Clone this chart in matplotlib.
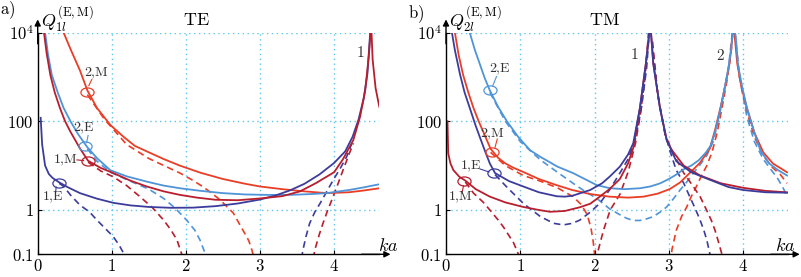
import numpy as np
import matplotlib
matplotlib.use('Agg')
import matplotlib.pyplot as plt
from matplotlib.path import Path
from matplotlib.transforms import Affine2D

plt.rcParams.update({
    'mathtext.fontset': 'cm',
    'font.family': 'serif',
    'font.size': 11,
    'axes.linewidth': 1.0,
})

W, H = 801, 277

# colours
C_E1 = '#3c3c9c'
C_M1 = '#b81e2d'
C_E2 = '#4f94d8'
C_M2 = '#ea3d26'
C_GRID = '#5cc6ee'

# ---------------- panel a) TE ----------------
te_e1_x = [0.04, 0.06, 0.1, 0.15, 0.2, 0.29, 0.4, 0.57, 0.8, 1.02, 1.25, 1.5, 1.8, 2.1, 2.4,
           2.7, 3.0, 3.2, 3.4, 3.6, 3.8, 4.0, 4.15, 4.25, 4.33, 4.4, 4.45, 4.49]
te_e1_q = [120, 30, 10, 6.5, 5.3, 4.2, 3.3, 2.4, 1.8, 1.45, 1.27, 1.17, 1.12, 1.13, 1.22,
           1.4, 1.72, 2.1, 2.75, 3.9, 6.3, 11.5, 21, 45, 110, 330, 1200, 12000]
te_e1d_x = [0.29, 0.35, 0.45, 0.57, 0.7, 0.8, 0.9, 1.02, 1.1, 1.16, 1.2]
te_e1d_q = [4.0, 3.4, 2.1, 1.29, 0.9, 0.59, 0.4, 0.25, 0.16, 0.105, 0.08]
te_e1d2_x = [3.56, 3.58, 3.62, 3.67, 3.74, 3.81, 3.9, 3.99, 4.08, 4.17, 4.24]
te_e1d2_q = [0.08, 0.126, 0.25, 0.5, 0.9, 1.4, 2.6, 4.8, 8.5, 16, 32]

te_m1_x = [0.085, 0.12, 0.17, 0.23, 0.3, 0.37, 0.44, 0.57, 0.68, 0.85, 1.02, 1.25, 1.47, 1.7,
           1.92, 2.15, 2.4, 2.7, 3.0, 3.3, 3.54, 3.75, 4.0, 4.12, 4.26, 4.35, 4.42, 4.47, 4.5,
           4.52, 4.56, 4.61]
te_m1_q = [10000, 3500, 1120, 450, 200, 100, 59, 24.5, 12.9, 8.9, 6.8, 4.6, 3.4, 2.63,
           2.19, 1.9, 1.7, 1.66, 1.82, 2.05, 2.63, 4.0, 7.1, 14, 38, 126, 500, 3200, 16000,
           2500, 560, 214]
te_m1d_x = [0.68, 0.85, 1.02, 1.2, 1.38, 1.55, 1.7, 1.8, 1.88, 1.94, 1.97]
te_m1d_q = [12, 7.6, 5.6, 3.55, 2.0, 1.12, 0.59, 0.35, 0.21, 0.105, 0.07]
te_m1d2_x = [3.72, 3.74, 3.8, 3.85, 3.91, 3.97, 4.05, 4.12, 4.2, 4.26]
te_m1d2_q = [0.08, 0.126, 0.28, 0.5, 0.95, 1.7, 3.8, 7.9, 17.8, 32]

te_e2_x = [0.1, 0.14, 0.19, 0.27, 0.35, 0.45, 0.55, 0.67, 0.8, 0.98, 1.2, 1.47, 1.7, 1.92,
           2.2, 2.5, 2.8, 3.1, 3.4, 3.7, 3.9, 4.2, 4.4, 4.61]
te_e2_q = [10000, 3160, 1120, 450, 200, 95, 50, 26, 14.8, 7.9, 5.75, 4.37, 3.55, 3.09,
           2.7, 2.4, 2.24, 2.19, 2.19, 2.29, 2.4, 2.82, 3.24, 3.8]
te_e2d_x = [0.67, 0.8, 0.98, 1.25, 1.5, 1.7, 1.85, 2.01, 2.12, 2.19, 2.26, 2.29]
te_e2d_q = [24, 12.6, 7.1, 4.47, 2.95, 1.82, 1.12, 0.59, 0.35, 0.21, 0.105, 0.07]

te_m2_x = [0.35, 0.45, 0.57, 0.67, 0.8, 0.98, 1.15, 1.31, 1.5, 1.7, 1.92, 2.2, 2.5, 2.8,
           3.0, 3.3, 3.6, 3.9, 4.2, 4.4, 4.61]
te_m2_q = [10000, 4000, 1410, 500, 200, 83, 46, 28, 20, 14.1, 10, 6.9, 5.0, 3.9,
           3.39, 2.95, 2.63, 2.4, 2.51, 2.75, 3.09]
te_m2d_x = [0.67, 0.9, 1.2, 1.5, 1.92, 2.1, 2.2, 2.3, 2.46, 2.64, 2.77, 2.85, 2.89, 2.93]
te_m2d_q = [400, 112, 30, 14.5, 6.8, 4.6, 3.6, 2.75, 1.7, 0.85, 0.35, 0.2, 0.126, 0.07]

# ---------------- panel b) TM ----------------
tm_m1_x = [0.02, 0.03, 0.06, 0.1, 0.18, 0.26, 0.4, 0.59, 0.8, 1.04, 1.25, 1.4, 1.6, 1.8,
           1.94, 2.07, 2.2, 2.34, 2.45, 2.52, 2.61, 2.69, 2.75, 2.79, 2.88, 2.97, 3.04, 3.2,
           3.42, 3.7, 4.0, 4.3, 4.59]
tm_m1_q = [100, 19, 11.2, 7.9, 5.6, 4.6, 2.95, 2.0, 1.48, 1.17, 1.0, 0.91, 0.95, 1.15,
           1.38, 2.0, 2.95, 5.0, 11.2, 25, 200, 2000, 16000, 2000, 200, 38, 22.4, 10,
           6.0, 4.0, 3.16, 2.7, 2.5]
tm_m1d_x = [0.26, 0.37, 0.5, 0.59, 0.7, 0.77, 0.85, 0.91, 0.97, 1.0]
tm_m1d_q = [4.3, 2.4, 1.5, 1.0, 0.6, 0.42, 0.26, 0.18, 0.105, 0.07]
tm_m1d2_x = [2.02, 2.05, 2.12, 2.21, 2.34, 2.45, 2.55, 2.62, 2.68, 2.73]
tm_m1d2_q = [0.07, 0.126, 0.35, 1.0, 2.24, 7.1, 32, 160, 1000, 12600]
tm_m1d3_x = [2.78, 2.85, 2.95, 3.05, 3.2, 3.32, 3.42, 3.5, 3.57, 3.62, 3.66, 3.71, 3.74]
tm_m1d3_q = [6300, 400, 50, 20, 6.8, 3.55, 2.0, 1.05, 0.59, 0.35, 0.21, 0.105, 0.07]

tm_e1_x = [0.08, 0.12, 0.19, 0.25, 0.32, 0.4, 0.46, 0.52, 0.59, 0.66, 0.85, 1.04, 1.25,
           1.49, 1.6, 1.7, 1.94, 2.1, 2.2, 2.34, 2.45, 2.52, 2.61, 2.69, 2.75, 2.79, 2.88,
           2.97, 3.1, 3.3, 3.55, 3.8, 4.0, 4.3, 4.59]
tm_e1_q = [10000, 4000, 1120, 450, 200, 79, 42, 22.4, 11.2, 6.8, 4.47, 3.39, 2.51,
           2.04, 2.0, 2.09, 2.82, 4.0, 5.6, 9.5, 17.8, 32, 200, 2000, 16000, 2000, 200,
           38, 12.6, 7.1, 4.8, 3.3, 2.82, 2.51, 2.45]
tm_e1d_x = [0.66, 0.81, 1.04, 1.27, 1.45, 1.58, 1.7, 1.8, 1.94, 2.07, 2.2, 2.34, 2.45,
            2.55, 2.63, 2.7, 2.74]
tm_e1d_q = [6.3, 3.4, 1.41, 0.71, 0.5, 0.46, 0.5, 0.59, 0.89, 1.41, 2.82, 6.8, 14, 40,
            200, 1600, 12600]
tm_e1d2_x = [2.77, 2.85, 2.95, 3.05, 3.1, 3.2, 3.28, 3.35, 3.42, 3.47, 3.51, 3.55, 3.57]
tm_e1d2_q = [6300, 400, 50, 14, 7.9, 4.0, 2.0, 1.12, 0.59, 0.35, 0.21, 0.105, 0.07]

tm_e2_x = [0.32, 0.39, 0.46, 0.52, 0.59, 0.7, 0.82, 0.97, 1.13, 1.27, 1.5, 1.71, 2.03,
           2.21, 2.4, 2.61, 2.75, 2.88, 3.0, 3.1, 3.2, 3.3, 3.4, 3.5, 3.56, 3.62, 3.69,
           3.75, 3.8, 3.84, 3.87, 3.9, 3.93, 3.99, 4.05, 4.15, 4.23, 4.35, 4.47, 4.59]
tm_e2_q = [10000, 4000, 1860, 955, 500, 214, 100, 45, 22.4, 15.8, 9.5, 6.8, 3.63,
           3.09, 2.95, 3.09, 3.39, 3.98, 5.0, 6.3, 8.3, 10, 13.2, 20, 28, 56, 178,
           560, 1580, 4470, 16000, 8000, 1860, 560, 200, 56, 22.4, 11.2, 7.9, 6.0]
tm_e2d_x = [0.59, 0.8, 1.0, 1.27, 1.5, 1.71, 1.87, 2.03, 2.2, 2.34, 2.43, 2.52, 2.61,
            2.7, 2.79, 2.88, 2.97, 3.06, 3.15, 3.24, 3.33, 3.42, 3.51, 3.6, 3.68, 3.75,
            3.8, 3.86]
tm_e2d_q = [450, 100, 35, 13.5, 7.1, 4.0, 2.63, 1.82, 1.07, 0.78, 0.65, 0.58, 0.58,
            0.63, 0.71, 0.89, 1.17, 1.78, 2.82, 4.27, 6.8, 10.5, 17, 36, 140, 560,
            1500, 12600]
tm_e2d2_x = [3.89, 3.95, 4.05, 4.15, 4.27, 4.38, 4.46, 4.52, 4.56, 4.59]
tm_e2d2_q = [10000, 1000, 126, 35, 14, 7.9, 5.25, 3.55, 2.63, 2.0]

tm_m2_x = [0.12, 0.17, 0.23, 0.3, 0.37, 0.44, 0.5, 0.6, 0.7, 0.8, 0.9, 1.04, 1.25, 1.49,
           1.7, 1.94, 2.2, 2.45, 2.66, 2.85, 3.01, 3.15, 3.28, 3.42, 3.55, 3.62, 3.7,
           3.77, 3.82, 3.87, 3.92, 3.98, 4.05, 4.15, 4.27, 4.4, 4.59]
tm_m2_q = [10000, 3160, 1120, 450, 200, 100, 59, 24, 15.1, 11.2, 9.1, 7.2, 5.0, 3.63,
           2.82, 2.29, 2.0, 1.9, 2.0, 2.34, 2.95, 4.17, 6.8, 11.7, 24, 63, 224, 800,
           2240, 16000, 2000, 560, 200, 56, 20, 11.2, 7.1]
tm_m2d_x = [0.6, 0.8, 1.04, 1.27, 1.5, 1.71, 1.82, 1.9, 1.95, 1.98, 2.0, 2.01]
tm_m2d_q = [20, 10, 6.0, 4.47, 3.16, 2.0, 1.32, 0.79, 0.4, 0.2, 0.1, 0.063]
tm_m2d2_x = [3.03, 3.04, 3.1, 3.17, 3.24, 3.3, 3.37, 3.44, 3.51, 3.58, 3.65, 3.72, 3.78,
             3.84, 3.87]
tm_m2d2_q = [0.063, 0.126, 0.35, 0.71, 1.17, 2.0, 3.39, 6.0, 10, 20, 56, 224, 800,
             4000, 16000]
tm_m2d3_x = [3.9, 3.95, 4.05, 4.15, 4.27, 4.4, 4.5, 4.59]
tm_m2d3_q = [6300, 1000, 160, 45, 16.6, 8.9, 6.3, 4.0]

yticks = [0.1, 1, 100, 1e4]
yticklabels = ['$0.1$', '$1$', '$100$', '$10^4$']
xticks = [0, 1, 2, 3, 4]


def fx(px):
    return px / W


def fy(py):
    return 1 - py / H


# ellipse marker
ELL = Path.unit_circle().transformed(Affine2D().scale(1.45, 1.0))


def setup(ax):
    ax.set_yscale('log')
    ax.set_xlim(0, 4.6)
    ax.set_ylim(0.1, 1e4)
    ax.spines['top'].set_visible(False)
    ax.spines['right'].set_visible(False)
    ax.set_yticks(yticks)
    ax.set_yticklabels(yticklabels, fontsize=12)
    ax.yaxis.set_minor_locator(matplotlib.ticker.NullLocator())
    ax.set_xticks(xticks)
    ax.set_xticklabels(['$%d$' % v for v in xticks], fontsize=12)
    ax.tick_params(direction='in', length=3, width=0.8, pad=3)
    for v in [1, 2, 3, 4]:
        ax.axvline(v, color=C_GRID, lw=1.0, ls=(0, (1, 2.5)), zorder=0)
    for v in [1, 100, 1e4]:
        ax.axhline(v, color=C_GRID, lw=1.0, ls=(0, (1, 2.5)), zorder=0)
    ax.annotate('', xy=(0, 1.06), xytext=(0, 0.95), xycoords='axes fraction',
                arrowprops=dict(arrowstyle='-|>', color='k', lw=1.0, mutation_scale=9,
                                shrinkA=0, shrinkB=0))
    ax.annotate('', xy=(1.035, 0), xytext=(0.95, 0), xycoords='axes fraction',
                arrowprops=dict(arrowstyle='-|>', color='k', lw=1.0, mutation_scale=9,
                                shrinkA=0, shrinkB=0))


def solid(ax, x, q, c):
    ax.plot(x, q, color=c, lw=1.3, solid_joinstyle='round')


def dashed(ax, x, q, c):
    ax.plot(x, q, color=c, lw=1.2, ls=(0, (4, 2.6)))


def tag(ax, pos, text_pos, line, text, c):
    ax.plot(*pos, marker=ELL, ms=9.5, mfc='none', mec=c, mew=0.9)
    ax.plot(line[0], line[1], color=c, lw=0.8)
    ax.text(*text_pos, text, fontsize=10, ha='center', va='center', color='#333333')


fig = plt.figure(figsize=(W / 100, H / 100), dpi=100)
ax1 = fig.add_axes([fx(37.7), fy(254.3), 4.6 * 74.1 / W, 221.6 / H])
ax2 = fig.add_axes([fx(446), fy(254.3), 4.6 * 74.3 / W, 221.6 / H])

for ax in (ax1, ax2):
    setup(ax)

# TE curves
dashed(ax1, te_m2d_x, te_m2d_q, C_M2)
dashed(ax1, te_e2d_x, te_e2d_q, C_E2)
dashed(ax1, te_m1d_x, te_m1d_q, C_M1)
dashed(ax1, te_m1d2_x, te_m1d2_q, C_M1)
dashed(ax1, te_e1d_x, te_e1d_q, C_E1)
dashed(ax1, te_e1d2_x, te_e1d2_q, C_E1)
solid(ax1, te_m2_x, te_m2_q, C_M2)
solid(ax1, te_e2_x, te_e2_q, C_E2)
solid(ax1, te_e1_x, te_e1_q, C_E1)
solid(ax1, te_m1_x, te_m1_q, C_M1)

# TM curves
dashed(ax2, tm_m2d_x, tm_m2d_q, C_M2)
dashed(ax2, tm_m2d2_x, tm_m2d2_q, C_M2)
dashed(ax2, tm_m2d3_x, tm_m2d3_q, C_M2)
dashed(ax2, tm_e2d_x, tm_e2d_q, C_E2)
dashed(ax2, tm_e2d2_x, tm_e2d2_q, C_E2)
dashed(ax2, tm_m1d_x, tm_m1d_q, C_M1)
dashed(ax2, tm_m1d2_x, tm_m1d2_q, C_M1)
dashed(ax2, tm_m1d3_x, tm_m1d3_q, C_M1)
dashed(ax2, tm_e1d_x, tm_e1d_q, C_E1)
dashed(ax2, tm_e1d2_x, tm_e1d2_q, C_E1)
solid(ax2, tm_m2_x, tm_m2_q, C_M2)
solid(ax2, tm_e2_x, tm_e2_q, C_E2)
solid(ax2, tm_m1_x, tm_m1_q, C_M1)
solid(ax2, tm_e1_x, tm_e1_q, C_E1)

# mode tags, panel a
tag(ax1, (0.665, 460), (0.79, 1230), ([0.69, 0.73], [640, 880]), r'$\mathrm{2{,}M}$', C_M2)
tag(ax1, (0.64, 28), (0.625, 70), ([0.68, 0.66], [48, 33]), r'$\mathrm{2{,}E}$', C_E2)
tag(ax1, (0.68, 12.6), (0.38, 13.5), ([0.53, 0.62], [13.5, 13.0]), r'$\mathrm{1{,}M}$', C_M1)
tag(ax1, (0.29, 4.1), (0.21, 1.95), ([0.24, 0.25], [2.45, 3.3]), r'$\mathrm{1{,}E}$', C_E1)
ax1.text(4.35, 3500, '$1$', fontsize=11, ha='center', va='center', color='#333333')

# mode tags, panel b
tag(ax2, (0.595, 510), (0.73, 1500), ([0.63, 0.68], [640, 1030]), r'$\mathrm{2{,}E}$', C_E2)
tag(ax2, (0.615, 20), (0.625, 52), ([0.66, 0.69], [26, 40]), r'$\mathrm{2{,}M}$', C_M2)
tag(ax2, (0.64, 6.7), (0.33, 9.5), ([0.46, 0.58], [8.4, 7.2]), r'$\mathrm{1{,}E}$', C_E1)
tag(ax2, (0.24, 4.6), (0.195, 1.9), ([0.235, 0.215], [3.5, 2.4]), r'$\mathrm{1{,}M}$', C_M1)
ax2.text(2.53, 3200, '$1$', fontsize=11, ha='center', va='center', color='#333333')
ax2.text(3.69, 3000, '$2$', fontsize=11, ha='center', va='center', color='#333333')

# titles and labels
fig.text(fx(196), fy(20), r'$\mathrm{TE}$', fontsize=13, ha='center', va='center')
fig.text(fx(604), fy(20), r'$\mathrm{TM}$', fontsize=13, ha='center', va='center')
fig.text(fx(0), fy(14), r'$\mathrm{a)}$', fontsize=12, ha='left', va='baseline')
fig.text(fx(408), fy(18), r'$\mathrm{b)}$', fontsize=12, ha='left', va='baseline')
fig.text(fx(41), fy(27), r'$Q_{1l}^{(\mathrm{E,M})}$', fontsize=13, ha='left', va='baseline')
fig.text(fx(449), fy(27), r'$Q_{2l}^{(\mathrm{E,M})}$', fontsize=13, ha='left', va='baseline')
fig.text(fx(378), fy(251), '$ka$', fontsize=13, ha='left', va='baseline')
fig.text(fx(775), fy(251), '$ka$', fontsize=13, ha='left', va='baseline')

fig.savefig('out.png', dpi=100)
